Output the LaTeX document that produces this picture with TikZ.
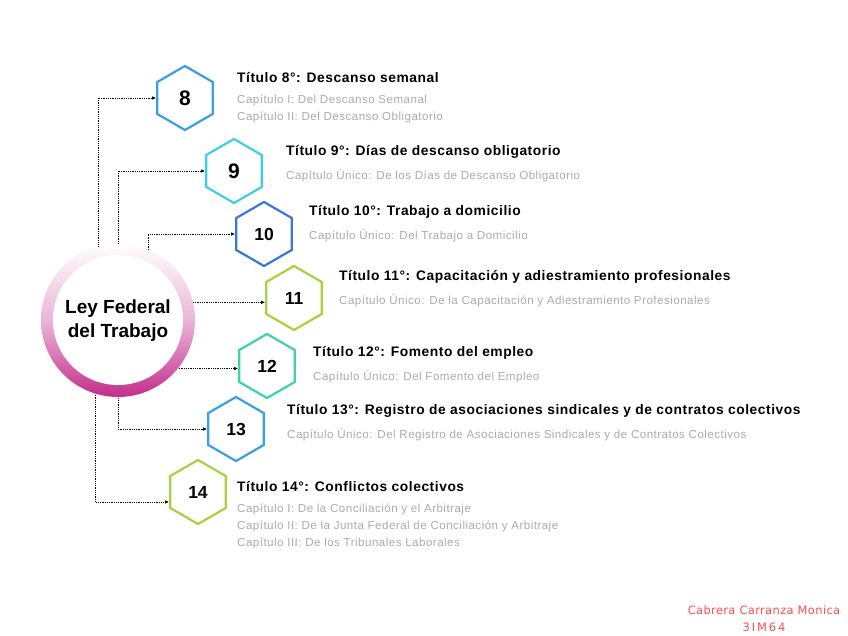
\documentclass[tikz,border=0pt]{standalone}
\usepackage{fontspec}
\setmainfont{Liberation Sans}
\newfontfamily\titulofont[LetterSpace=4]{Liberation Sans}
\newfontfamily\grisfont[LetterSpace=4]{Liberation Sans}
\newfontfamily\firma[LetterSpace=3]{DejaVu Sans}
\usepackage{xcolor}
\usepackage{tikz}
\usetikzlibrary{positioning, arrows.meta, shapes.geometric, calc}

\definecolor{azul}{HTML}{3A9FE3}
\definecolor{cian}{HTML}{3ECFE6}
\definecolor{marino}{HTML}{3A78D8}
\definecolor{lima}{HTML}{A8D13E}
\definecolor{menta}{HTML}{3FD3A0}
\definecolor{magenta}{HTML}{C42D8C}
\definecolor{gris}{HTML}{ABABAB}
\definecolor{firmarojo}{HTML}{FF4D55}

\begin{document}
\begin{tikzpicture}[
    x=1pt, y=-1pt,
    hexa/.style={regular polygon, regular polygon sides=6, regular polygon rotate=30,
        draw, line width=2.2pt, minimum size=64pt, inner sep=0pt, fill=white,
        font=\bfseries\fontsize{17.5}{17}\selectfont},
    grande/.style={font=\bfseries\fontsize{21}{21}\selectfont},
    titulo/.style={anchor=west, inner sep=0pt, font=\titulofont\bfseries\fontsize{13.8}{15}\selectfont},
    capitulo/.style={anchor=north west, inner sep=0pt, align=left, text=gris,
        font=\grisfont\fontsize{11.6}{17}\selectfont},
    enlace/.style={densely dotted, line width=0.8pt, -{Latex[length=4pt,width=3.5pt]}}
]
    \useasboundingbox (0,0) rectangle (848,636);

    % Central node: Ley Federal del Trabajo
    \shade[top color=white, bottom color=magenta, middle color=magenta!35]
        (118,320) circle (77);
    \fill[white] (118,320) circle (65);
    \node[circle, minimum size=154pt, inner sep=0pt, align=center,
        font=\bfseries\fontsize{19}{24}\selectfont] (ley) at (118,321) {Ley Federal\\del Trabajo};

    % Hexagons
    \node[hexa, grande, draw=azul] (h8) at (185,98)  {8};
    \node[hexa, grande, draw=cian] (h9) at (234,171) {9};
    \node[hexa, draw=marino] (h10) at (264,234) {10};
    \node[hexa, draw=lima]   (h11) at (294,298) {11};
    \node[hexa, draw=menta]  (h12) at (267,366) {12};
    \node[hexa, draw=azul]   (h13) at (236,429) {13};
    \node[hexa, draw=lima]   (h14) at (198,492) {14};

    % Connectors
    \draw[enlace] (ley.105) |- (h8);
    \draw[enlace] (ley.90) |- (h9);
    \draw[enlace] (ley.67) |- (h10);
    \draw[enlace] (ley.14) -- (ley.14 -| h11.west);
    \draw[enlace] (ley.-38) -- (ley.-38 -| h12.west);
    \draw[enlace] (ley.270) |- (h13);
    \draw[enlace] (ley.253) |- ($(h14.west)+(0,10)$);

    % Titles
    \node[titulo] (t8) at (237,78) {Título 8°: Descanso semanal};
    \node[capitulo] (c8) at (237,95) {Capítulo I: Del Descanso Semanal\\Capítulo II: Del Descanso Obligatorio};

    \node[titulo] (t9) at (286,152) {Título 9°: Días de descanso obligatorio};
    \node[capitulo] (c9) at (286,169) {Capítulo Único: De los Días de Descanso Obligatorio};

    \node[titulo] (t10) at (309,212) {Título 10°: Trabajo a domicilio};
    \node[capitulo] (c10) at (309,229) {Capítulo Único: Del Trabajo a Domicilio};

    \node[titulo] (t11) at (339,277) {Título 11°: Capacitación y adiestramiento profesionales};
    \node[capitulo] (c11) at (339,294) {Capítulo Único: De la Capacitación y Adiestramiento Profesionales};

    \node[titulo] (t12) at (313,353) {Título 12°: Fomento del empleo};
    \node[capitulo] (c12) at (313,370) {Capítulo Único: Del Fomento del Empleo};

    \node[titulo] (t13) at (287,411) {Título 13°: Registro de asociaciones sindicales y de contratos colectivos};
    \node[capitulo] (c13) at (287,428) {Capítulo Único: Del Registro de Asociaciones Sindicales y de Contratos Colectivos};

    \node[titulo] (t14) at (237,487) {Título 14°: Conflictos colectivos};
    \node[capitulo] (c14) at (237,504) {Capítulo I: De la Conciliación y el Arbitraje\\Capítulo II: De la Junta Federal de Conciliación y Arbitraje\\Capítulo III: De los Tribunales Laborales};

    % Signature
    \node[text=firmarojo, font=\firma\fontsize{11.5}{17}\selectfont, align=center] (firma) at (764,619)
        {Cabrera Carranza Monica\\3\,I\,M\,6\,4};
\end{tikzpicture}
\end{document}
